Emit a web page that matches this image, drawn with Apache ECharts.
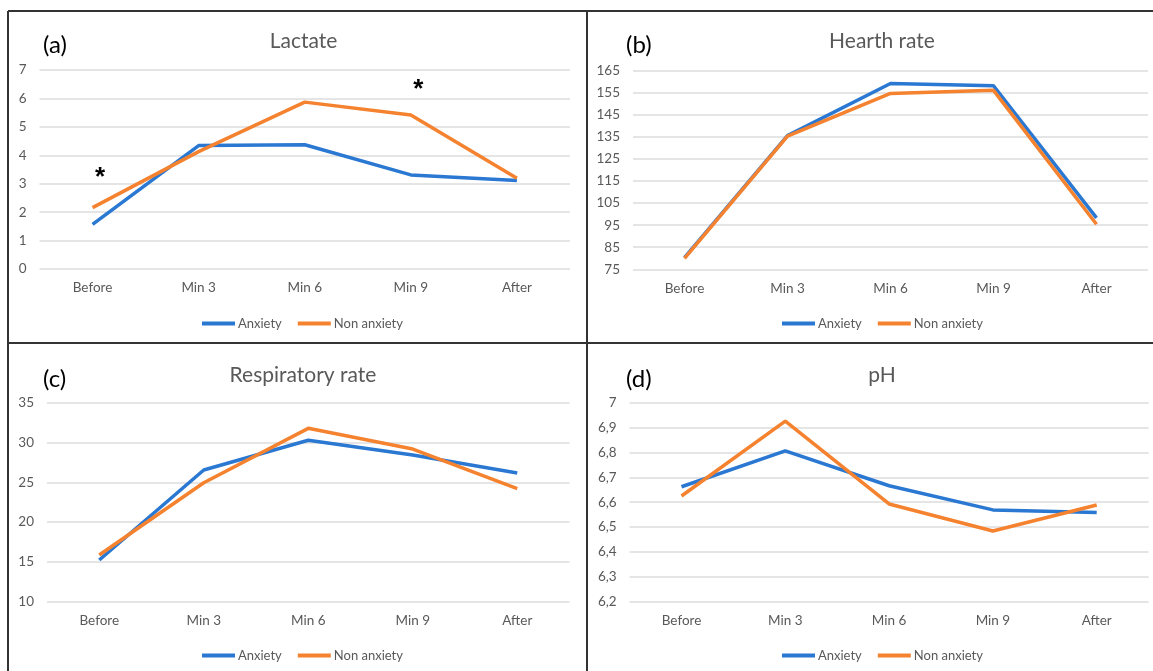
<!DOCTYPE html>
<html>
<head>
<meta charset="utf-8">
<script src="https://cdn.jsdelivr.net/npm/echarts@6/dist/echarts.min.js"></script>
<style>
  html, body { margin: 0; padding: 0; background: #fff; }
  #main { width: 1153px; height: 671px; }
</style>
</head>
<body>
<div id="main"></div>
<script>
var categories = ['Before', 'Min 3', 'Min 6', 'Min 9', 'After'];

var lactateAnxiety = [1.57, 4.34, 4.37, 3.31, 3.11];
var lactateNon = [2.16, 4.13, 5.87, 5.42, 3.19];
var heartAnxiety = [80.3, 135.6, 159.2, 158.2, 98.3];
var heartNon = [80.0, 135.3, 154.7, 156.1, 95.4];
var respAnxiety = [15.24, 26.55, 30.28, 28.43, 26.17];
var respNon = [15.87, 24.95, 31.78, 29.18, 24.2];
var phAnxiety = [6.662, 6.806, 6.666, 6.569, 6.559];
var phNon = [6.625, 6.926, 6.593, 6.484, 6.589];

var panelTitles = ['Lactate', 'Hearth rate', 'Respiratory rate', 'pH'];
var panelLetters = ['(a)', '(b)', '(c)', '(d)'];
var yMin = [0, 75, 10, 6.2];
var yMax = [7, 165, 35, 7];
var yStep = [1, 10, 5, 0.1];
// significance marks in panel (a)
var starPoints = [['Before', 3.4], ['Min 9', 6.48]];

(function () {
    var myChart = echarts.init(document.getElementById('main'));
    var blue = '#2a78d2';
    var orange = '#f5822f';
    var grey = '#595959';
    var font = 'Lato, "Liberation Sans", sans-serif';

    var grids = [
        {left: 39.5, top: 70, width: 530.5, height: 199},
        {left: 633, top: 70.7, width: 515, height: 198.6},
        {left: 47, top: 402.7, width: 522.5, height: 199},
        {left: 629.6, top: 402.7, width: 519, height: 199}
    ];
    var legendTops = [312, 312, 644, 644];
    var legendLefts = [197, 777, 197, 777];
    var titleCenters = [298.5, 877, 298, 877];
    var titleTops = [26, 26, 360, 360];
    var letterLefts = [38, 621, 38, 621];
    var letterTops = [28, 28, 362, 362];

    var titles = [];
    for (var i = 0; i < 4; i++) {
        titles.push({
            text: panelTitles[i], left: titleCenters[i], top: titleTops[i], textAlign: 'center',
            textStyle: {fontFamily: font, fontSize: 21, fontWeight: 'normal', color: grey}
        });
        titles.push({
            text: panelLetters[i], left: letterLefts[i], top: letterTops[i],
            textStyle: {fontFamily: font, fontSize: 24, fontWeight: 'normal', color: '#000'}
        });
    }

    var xAxes = [], yAxes = [], legends = [];
    for (var k = 0; k < 4; k++) {
        xAxes.push({
            type: 'category', gridIndex: k, data: categories, boundaryGap: true,
            axisLine: {show: false}, axisTick: {show: false},
            axisLabel: {margin: 12, color: grey, fontSize: 13.5, fontFamily: font}
        });
        yAxes.push({
            type: 'value', gridIndex: k, min: yMin[k], max: yMax[k], interval: yStep[k],
            axisLine: {show: false}, axisTick: {show: false},
            splitLine: {lineStyle: {color: '#dcdcdc', width: 1.5}},
            axisLabel: {
                margin: 13, color: grey, fontSize: 13.5, fontFamily: font,
                formatter: k === 3 ? function (v) {
                    return (Math.round(v * 10) / 10).toString().replace('.', ',');
                } : null
            }
        });
        legends.push({
            data: ['Anxiety', 'Non anxiety'], left: legendLefts[k], top: legendTops[k],
            icon: 'rect', itemWidth: 33, itemHeight: 4, itemGap: 16,
            textStyle: {color: grey, fontSize: 13, fontFamily: font, padding: [0, 0, 0, -2]}
        });
    }

    var pairs = [[lactateAnxiety, lactateNon], [heartAnxiety, heartNon], [respAnxiety, respNon], [phAnxiety, phNon]];
    var series = [];
    pairs.forEach(function (p, idx) {
        series.push({
            name: 'Anxiety', type: 'line', xAxisIndex: idx, yAxisIndex: idx, data: p[0],
            symbol: 'none', lineStyle: {color: blue, width: 3.5}, itemStyle: {color: blue}
        });
        var s = {
            name: 'Non anxiety', type: 'line', xAxisIndex: idx, yAxisIndex: idx, data: p[1],
            symbol: 'none', lineStyle: {color: orange, width: 3.5}, itemStyle: {color: orange}
        };
        if (idx === 0) {
            s.markPoint = {
                symbolSize: 0,
                label: {show: true, formatter: '*', color: '#000', fontSize: 26, fontWeight: 'bold', offset: [7.5, 5]},
                data: starPoints.map(function (c) { return {coord: c}; })
            };
        }
        series.push(s);
    });

    var frame = {stroke: '#333', lineWidth: 2};
    var option = {
        animation: false,
        backgroundColor: '#fff',
        title: titles,
        legend: legends,
        grid: grids,
        xAxis: xAxes,
        yAxis: yAxes,
        series: series,
        graphic: [
            {type: 'line', shape: {x1: 8, y1: 11, x2: 1153, y2: 11}, style: frame},
            {type: 'line', shape: {x1: 8, y1: 11, x2: 8, y2: 671}, style: frame},
            {type: 'line', shape: {x1: 587, y1: 11, x2: 587, y2: 671}, style: frame},
            {type: 'line', shape: {x1: 8, y1: 343, x2: 1153, y2: 343}, style: frame}
        ]
    };
    myChart.setOption(option);
})();
</script>
</body>
</html>
